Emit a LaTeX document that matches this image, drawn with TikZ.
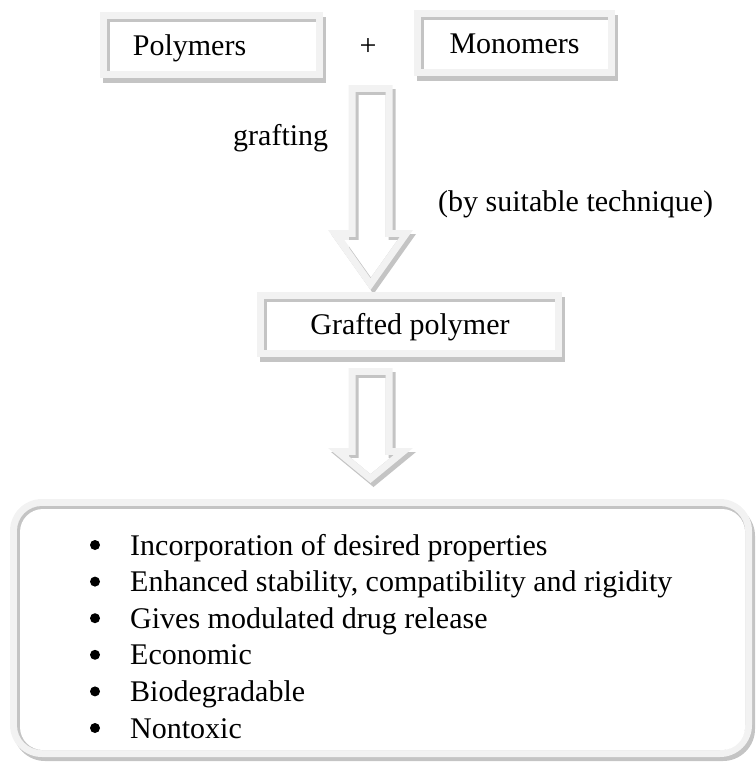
\documentclass[tikz,border=0pt]{standalone}
\usepackage{fontspec}
\setmainfont{Liberation Serif}
\definecolor{frlight}{HTML}{F2F2F2}
\definecolor{frdark}{HTML}{C4C4C4}
\newcommand\framerect[4]{%
  \fill[frdark] ({#1+3},{#2+5}) rectangle ({#3+3},{#4+5});
  \fill[frlight] (#1,#2) rectangle (#3,#4);
  \fill[frdark] ({#1+7},{#2+7}) rectangle ({#3-7},{#4-7});
  \fill[white] ({#1+10},{#2+10}) rectangle ({#3-7},{#4-7});
}
\newcommand\blockarrow[4]{% cx top base tip
  \pgfmathsetmacro\sa{#1-22}\pgfmathsetmacro\sb{#1+22}%
  \pgfmathsetmacro\ha{#1-42.5}\pgfmathsetmacro\hb{#1+42.5}%
  \pgfmathsetmacro\hh{#4-#3}%
  \pgfmathsetmacro\tin{#4-7*sqrt(42.5*42.5+\hh*\hh)/42.5}%
  \pgfmathsetmacro\cin{42.5/\hh*(\tin-#3-7)}%
  \fill[frdark,shift={(3,4)}] (\sa,#2)--(\sb,#2)--(\sb,#3)--(\hb,#3)--(#1,#4)--(\ha,#3)--(\sa,#3)--cycle;
  \fill[frlight] (\sa,#2)--(\sb,#2)--(\sb,#3)--(\hb,#3)--(#1,#4)--(\ha,#3)--(\sa,#3)--cycle;
  \begin{scope}
    \clip ({\sa+7},{#2+7})--({\sb-7},{#2+7})--({\sb-7},{#3+7})--({#1+\cin},{#3+7})--(#1,\tin)--({#1-\cin},{#3+7})--({\sa+7},{#3+7})--cycle;
    \fill[frdark] ({\sa},{#2}) rectangle ({\hb},{#4});
    \fill[white,shift={(3,3)}] ({\sa+7},{#2+7})--({\sb-7},{#2+7})--({\sb-7},{#3+7})--({#1+\cin},{#3+7})--(#1,\tin)--({#1-\cin},{#3+7})--({\sa+7},{#3+7})--cycle;
  \end{scope}
}
\tikzset{
  txt/.style={inner sep=0pt, font=\fontsize{30}{36}\selectfont},
  bul/.style={circle, fill=black, inner sep=0pt, minimum size=10pt},
}
\begin{document}
\begin{tikzpicture}[x=1pt,y=-1pt]
\useasboundingbox (0,0) rectangle (755,763);
% top boxes
\framerect{100}{12}{323}{78}
\framerect{414}{10}{615}{76}
\node[txt,anchor=base] (poly) at (189.5,55) {Polymers};
\node[txt,anchor=base] (mono) at (514.5,53) {Monomers};
\node[txt] (plus) at (368,47) {+};
% arrow 1
\blockarrow{370.5}{85}{230}{290}
\node[txt,anchor=base west] (graft) at (233,145) {grafting};
\node[txt,anchor=base west] (tech) at (438,211) {(by suitable technique)};
% grafted polymer
\framerect{257}{292}{562}{357}
\node[txt,anchor=base] (gp) at (410,334) {Grafted polymer};
% arrow 2
\blockarrow{370.5}{368}{448}{483}
% bottom box
\fill[frdark,rounded corners=32] (13,504) rectangle (755,761);
\fill[frlight,rounded corners=32] (10,499) rectangle (752,757);
\fill[frdark,rounded corners=25] (17,506) rectangle (745,750);
\fill[white,rounded corners=23] (20,509) rectangle (745,750);
\foreach \t [count=\i] in {Incorporation of desired properties,
  {Enhanced stability, compatibility and rigidity},
  Gives modulated drug release, Economic, Biodegradable, Nontoxic}{
  \pgfmathsetmacro\yy{545+36.6*(\i-1)}
  \node[bul] (b\i) at (95,\yy) {};
  \node[txt,anchor=base west] (item\i) at (130,\yy+10) {\t};
}
\end{tikzpicture}
\end{document}
